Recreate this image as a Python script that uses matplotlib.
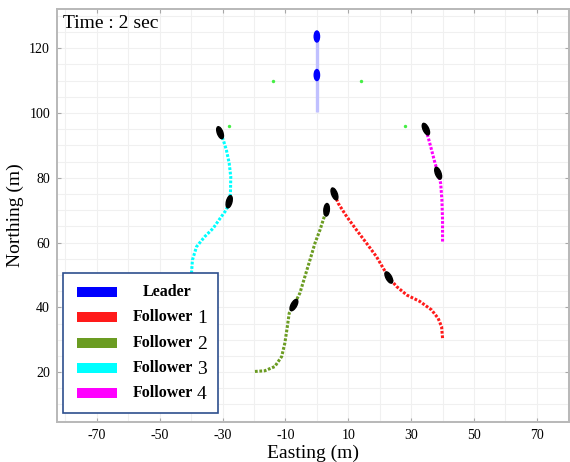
import matplotlib.pyplot as plt
import numpy as np
from matplotlib.patches import Ellipse, Rectangle
from matplotlib.ticker import MultipleLocator

plt.rcParams['font.family'] = ['Liberation Serif', 'DejaVu Serif']
plt.rcParams['axes.unicode_minus'] = False

# leader track and its two vehicles
leader_x = [0.0, 0.0]
leader_y = [100.4, 125.0]
leader_veh_x = [0.0, 0.0]
leader_veh_y = [111.7, 123.6]
leader_veh_ang = [0, 0]

# formation slots around the leader
slot_x = [-14, 14, -28, 28]
slot_y = [110, 110, 96, 96]

# follower tracks
f1_x = [40.0, 39.7, 38.6, 36.5, 32.8, 28.6, 25.4, 22.9, 21.1, 19.0, 15.8, 12.6, 9.5, 6.8, 5.6]
f1_y = [30.5, 34.0, 36.6, 39.2, 41.8, 43.8, 46.4, 49.2, 52.1, 55.6, 59.8, 63.9, 68.0, 72.1, 75.0]
f2_x = [-19.7, -16.6, -13.4, -11.2, -10.2, -9.4, -8.8, -7.3, -5.4, -3.8, -2.2, -0.6, 1.0, 2.2, 3.1]
f2_y = [20.2, 20.4, 21.7, 24.8, 28.9, 34.0, 38.2, 40.7, 44.4, 49.5, 54.6, 59.8, 63.9, 67.5, 70.1]
f3_x = [-39.9, -39.6, -38.3, -35.7, -33.0, -30.4, -28.8, -27.9, -27.5, -27.4, -27.9, -28.8, -29.8, -30.8]
f3_y = [50.5, 54.6, 58.7, 61.8, 64.4, 68.0, 70.1, 72.6, 75.2, 80.3, 84.5, 88.6, 91.7, 93.9]
f4_x = [40.0, 40.0, 39.8, 39.4, 38.6, 37.6, 36.5, 35.5, 34.7]
f4_y = [60.3, 67.0, 73.1, 78.3, 81.4, 84.5, 88.6, 92.2, 95.0]

# follower vehicles (x, y, tilt in degrees, positive = nose to the left)
veh_x = [22.9, 5.6, -7.3, 3.1, -27.9, -30.8, 38.6, 34.7]
veh_y = [49.2, 75.0, 40.7, 70.1, 72.6, 93.9, 81.4, 95.0]
veh_ang = [30, 22, -30, -5, -15, 21, 22, 26]

names = ['Leader', 'Follower', 'Follower', 'Follower', 'Follower']
numbers = ['', '1', '2', '3', '4']
colors = ['#0000ff', '#ff1a1a', '#6b9c22', '#00ffff', '#ff00ff']

fig = plt.figure(figsize=(5.7, 4.62), dpi=100)
ax = fig.add_axes([0.1, 0.0866, 0.898, 0.894])

ax.plot(leader_x, leader_y, color='#c0c0ff', lw=2.4, solid_capstyle='butt', zorder=2)
tracks = [(f1_x, f1_y), (f2_x, f2_y), (f3_x, f3_y), (f4_x, f4_y)]
for (tx, ty), c in zip(tracks, colors[1:]):
    ax.plot(tx, ty, color=c, lw=2.2, ls=(0, (0.9, 0.55)), zorder=3)

ax.scatter(slot_x, slot_y, s=6, color='#44ee44', zorder=3, linewidths=0)

for x, y, a in zip(leader_veh_x, leader_veh_y, leader_veh_ang):
    ax.add_patch(Ellipse((x, y), 1.7, 3.4, angle=a, color='#0000ff', zorder=4))
for x, y, a in zip(veh_x, veh_y, veh_ang):
    ax.add_patch(Ellipse((x, y), 1.75, 3.9, angle=a, color='black', zorder=4))

ax.set_xlim(-82.7, 80.2)
ax.set_ylim(4.6, 132.1)
ax.set_xticks(np.arange(-70, 71, 20))
ax.set_yticks(np.arange(20, 121, 20))
ax.xaxis.set_minor_locator(MultipleLocator(10))
ax.yaxis.set_minor_locator(MultipleLocator(5))
ax.grid(which='both', color='#f0f0f0', lw=0.8)
ax.set_axisbelow(True)
ax.tick_params(which='major', direction='in', length=3, color='#a8a8a8',
               top=True, right=True, labelsize=10, pad=5)
ax.tick_params(which='minor', length=0)
for s in ax.spines.values():
    s.set_color('#b8b8b8')
    s.set_linewidth(1.4)

ax.set_xlabel('Easting (m)', fontsize=14, labelpad=2)
ax.set_ylabel('Northing (m)', fontsize=14, labelpad=4)
ax.text(0.012, 0.985, 'Time : 2 sec', transform=ax.transAxes, fontsize=14,
        va='top', ha='left', zorder=6)

# legend box
ax.add_patch(Rectangle((0.0117, 0.0218), 0.3028, 0.3392, transform=ax.transAxes,
                       facecolor='white', edgecolor='#2e4f8e', lw=1.2, zorder=7))
row_y = [0.315, 0.254, 0.191, 0.130, 0.070]
for yy, nm, num, c in zip(row_y, names, numbers, colors):
    ax.add_patch(Rectangle((0.039, yy - 0.012), 0.078, 0.024, transform=ax.transAxes,
                           facecolor=c, edgecolor='none', zorder=8))
    if num:
        ax.text(0.148, yy, nm, transform=ax.transAxes, fontsize=11.5,
                fontweight='bold', va='center', ha='left', zorder=8)
        ax.text(0.283, yy - 0.004, num, transform=ax.transAxes, fontsize=14,
                va='center', ha='center', zorder=8)
    else:
        ax.text(0.216, yy, nm, transform=ax.transAxes, fontsize=11.5,
                fontweight='bold', va='center', ha='center', zorder=8)

fig.savefig('out.png', dpi=100)
